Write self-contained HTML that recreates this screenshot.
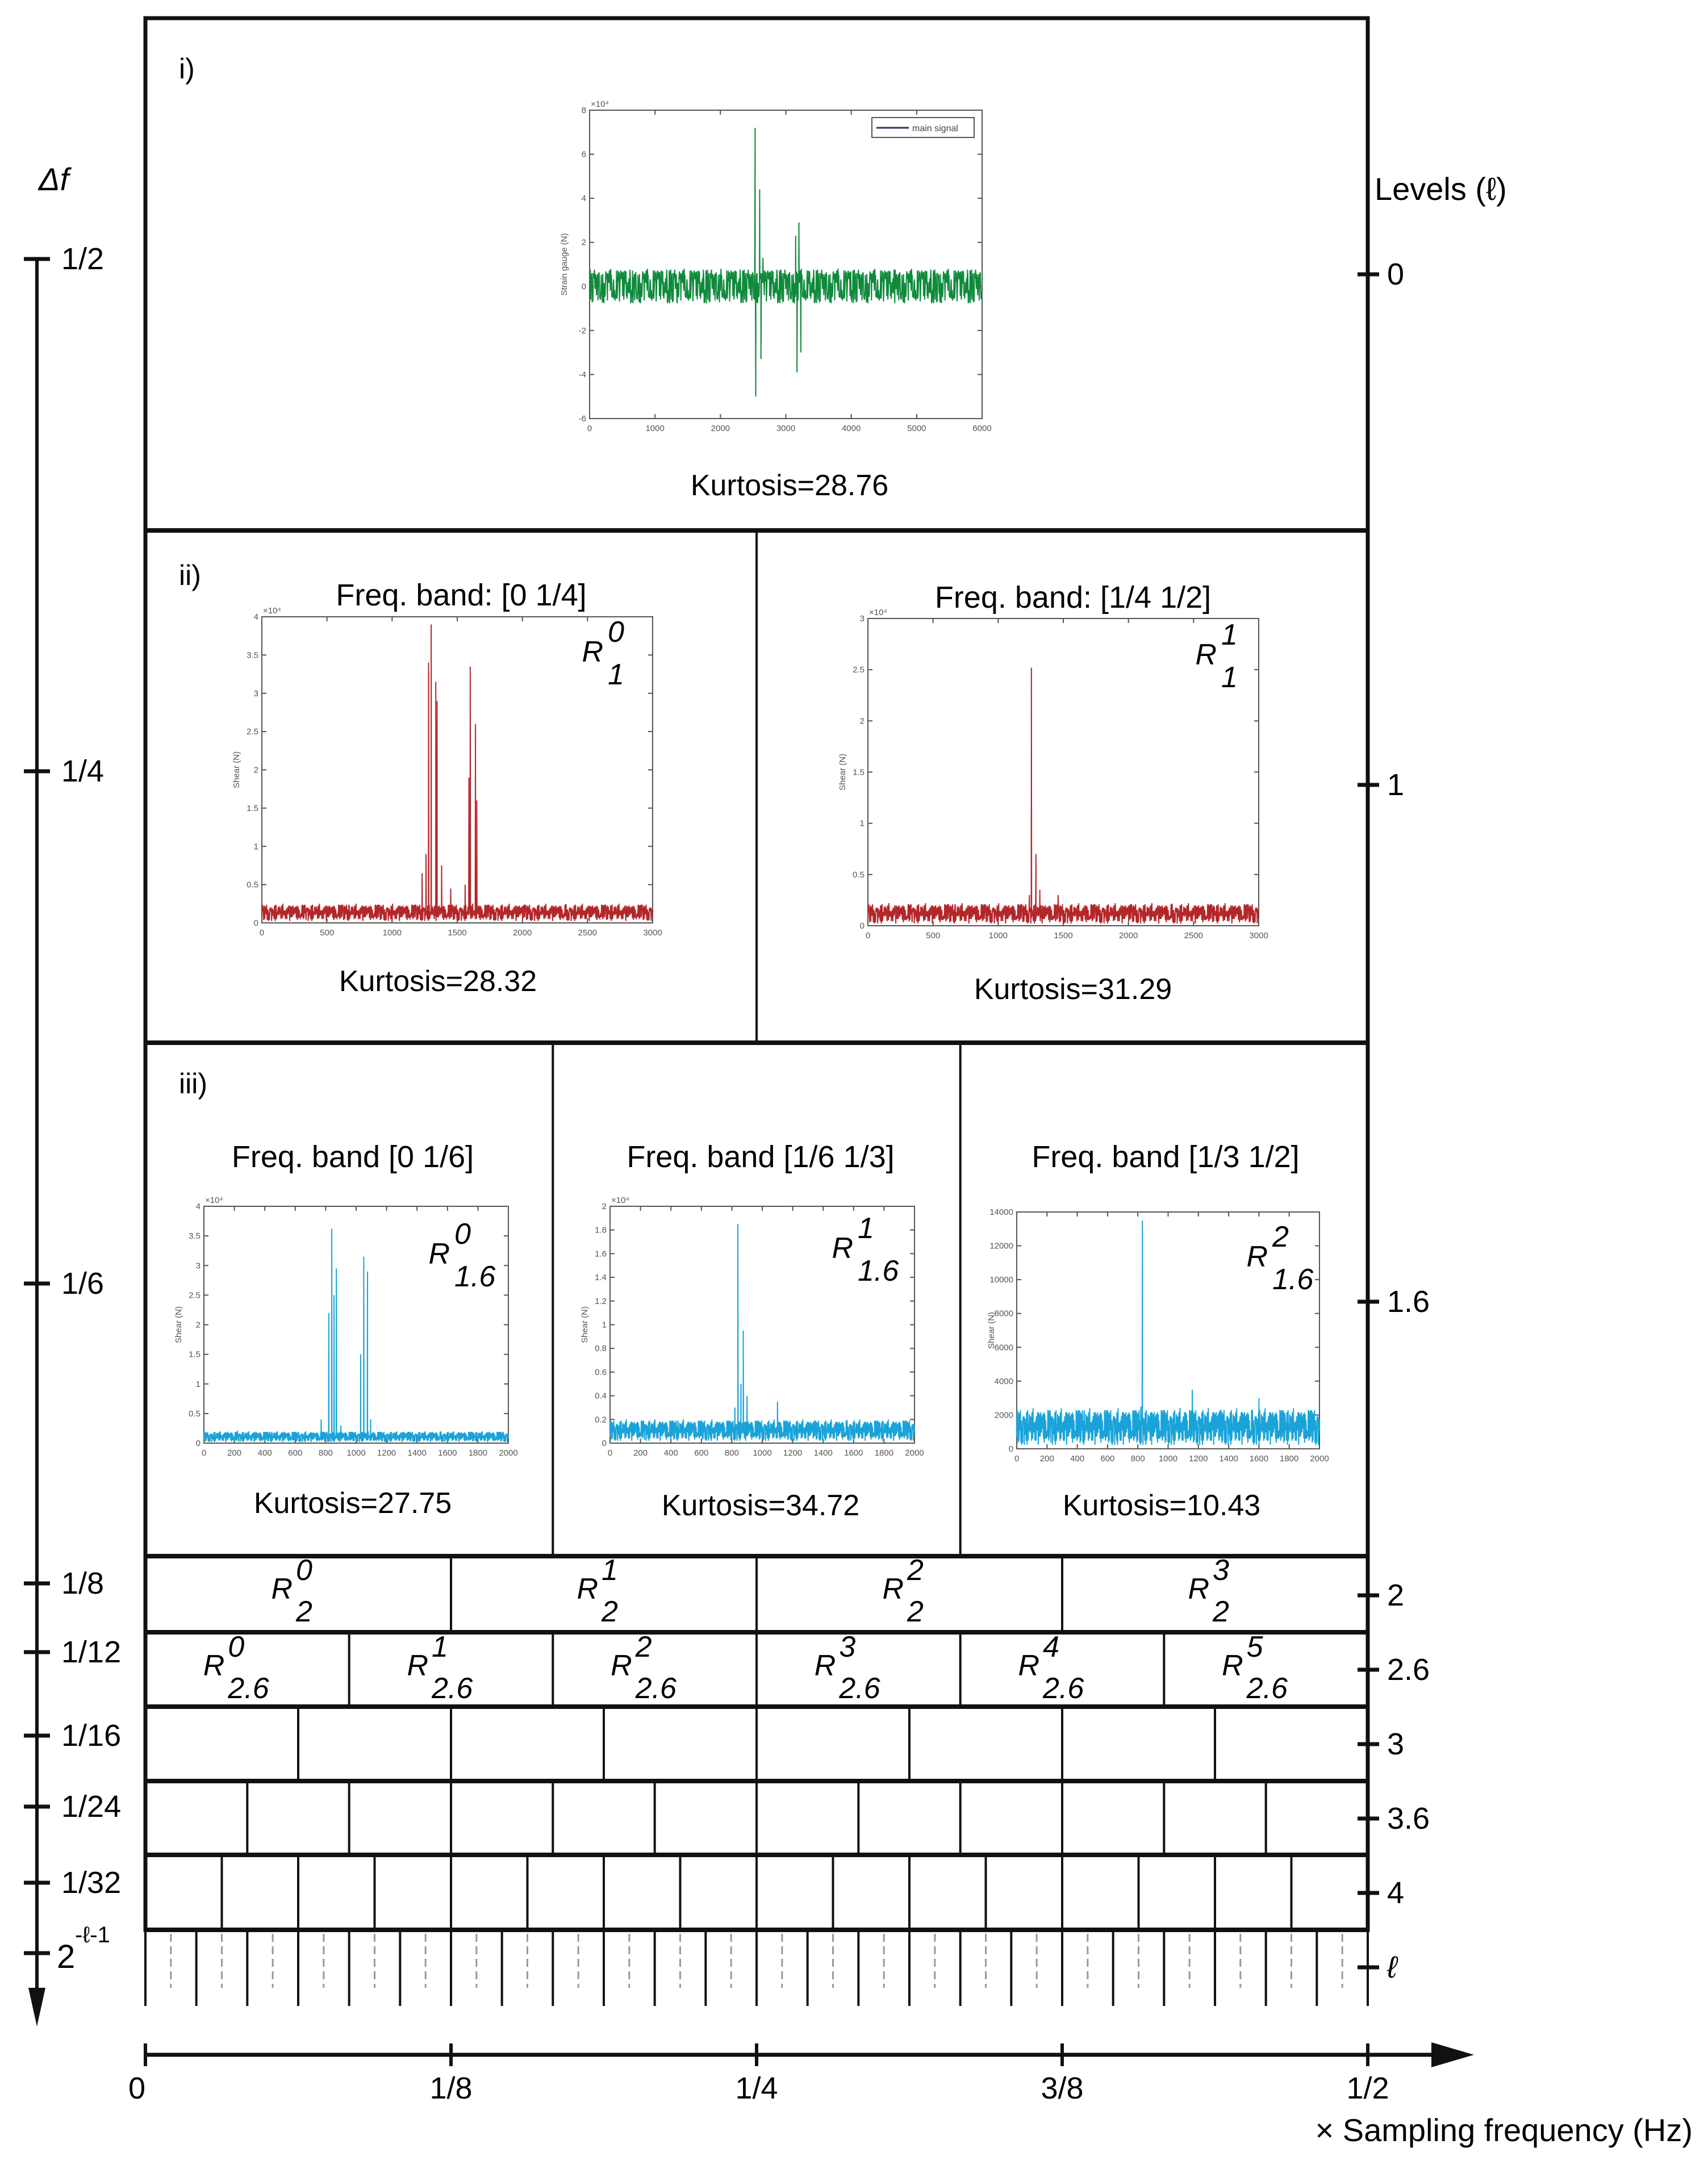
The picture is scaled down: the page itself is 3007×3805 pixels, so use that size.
<!DOCTYPE html>
<html><head><meta charset="utf-8">
<style>
html,body{margin:0;padding:0;background:#fff;}
svg{display:block;font-family:"Liberation Sans",sans-serif;}
</style></head>
<body>
<svg id="fig" width="3007" height="3805" viewBox="0 0 3007 3805" xmlns="http://www.w3.org/2000/svg">
<g id="frame"></g>
<g id="axes"></g>
<g id="plots"></g>
</svg>
<script>
// ---------- data ----------
const noise = [0.3,-0.7,0.9,-0.2,0.5,-0.9,0.1,0.8,-0.4,0.6,-0.8,0.2,0.7,-0.5,0.95,-0.3,0.4,-0.6,0.85,-0.1,
 0.55,-0.75,0.25,0.65,-0.45,0.9,-0.85,0.15,0.6,-0.35,0.8,-0.65,0.35,-0.95,0.7,-0.15,0.45,-0.55,0.9,-0.25,
 0.2,-0.8,0.75,-0.4,0.5,-0.7,1.0,-0.3,0.6,-0.9,0.3,0.85,-0.5,0.4,-0.6,0.7,-0.2,0.95,-0.75,0.1,
 0.65,-0.45,0.8,-0.85,0.35,-0.3,0.9,-0.6,0.5,-0.1,0.75,-0.95,0.25,0.6,-0.4,0.85,-0.7,0.45,-0.2,0.9,
 0.3,-0.65,0.7,-0.35,0.55,-0.9,0.15,0.8,-0.5,0.4,-0.75,0.95,-0.25,0.6,-0.85,0.2,0.7,-0.45,0.5,-0.6,
 0.85,-0.3,0.4,-0.8,0.65,-0.15,0.9,-0.55,0.35,-0.7,0.75,-0.4,0.5,-0.95,0.25,0.8,-0.6,0.45,-0.2,0.7];
const levelLabels = ["0","1","1.6","2","2.6","3","3.6","4","ℓ"];
const dfLabels = ["1/2","1/4","1/6","1/8","1/12","1/16","1/24","1/32"];
const freqLabels = ["0","1/8","1/4","3/8","1/2"];
const kurtosis = ["28.76","28.32","31.29","27.75","34.72","10.43"];
const spikesI = [[2520,0.5],[2530,7.2],[2540,-5.0],[2560,0.6],[2600,4.4],[2620,-3.3],[2650,1.3],[3150,2.3],[3170,-3.9],[3200,2.9],[3230,-3.0]];
const spikesIIa = [[1230,0.65],[1260,0.9],[1280,3.4],[1300,3.9],[1320,0.1],[1335,3.15],[1345,2.9],[1380,0.75],[1450,0.45],[1560,0.5],[1590,1.9],[1600,3.35],[1620,0.1],[1640,2.6],[1650,1.6]];
const spikesIIb = [[1240,0.3],[1255,2.52],[1290,0.7],[1320,0.35],[1460,0.3]];
const spikesIIIa = [[770,0.4],[820,2.2],[840,3.62],[855,2.5],[870,2.95],[900,0.3],[1030,1.5],[1050,3.15],[1075,2.9],[1095,0.4]];
const spikesIIIb = [[820,0.3],[840,1.85],[860,0.5],[875,0.95],[900,0.4],[1100,0.35]];
const spikesIIIc = [[820,2500],[830,13500],[850,2000],[1160,3500],[1600,3000]];

const NS="http://www.w3.org/2000/svg";
function mk(parent,tag,attrs,text){const e=document.createElementNS(NS,tag);for(const k in attrs)e.setAttribute(k,attrs[k]);if(text!==undefined)e.textContent=text;parent.appendChild(e);return e;}

const L=256,R=2408,W=R-L;
const frame=document.getElementById('frame');
const rowY=[32,934,1836,2740,2874,3005,3136,3266,3398];
let outer=mk(frame,'rect',{x:L,y:32,width:W,height:3398-32,fill:'none',stroke:'#111','stroke-width':7});


for(let i=1;i<rowY.length;i++){const l=mk(frame,'line',{x1:L,x2:R,y1:rowY[i],y2:rowY[i],stroke:'#111','stroke-width':8});

}
function vsplit(y1,y2,n){for(let k=1;k<n;k++){const x=L+W*k/n;const l=mk(frame,'line',{x1:x,x2:x,y1:y1,y2:y2,stroke:'#111','stroke-width':4});

}}
vsplit(934,1836,2);vsplit(1836,2740,3);
vsplit(2740,2874,4);vsplit(2874,3005,6);vsplit(3005,3136,8);vsplit(3136,3266,12);vsplit(3266,3398,16);
for(let k=0;k<=24;k++){const x=L+W*k/24;const l=mk(frame,'line',{x1:x,x2:x,y1:3398,y2:3532,stroke:'#111','stroke-width':4});

}
for(let k=0;k<24;k++){const x=L+W*(k+0.5)/24;const l=mk(frame,'line',{x1:x,x2:x,y1:3405,y2:3500,stroke:'#999','stroke-width':3,'stroke-dasharray':'14 8'});

}

function rlab(cx,cy,sup,sub,fs){const g=mk(frame,'g',{});


mk(g,'text',{x:cx-10,y:cy+15,'font-size':fs,'font-style':'italic','text-anchor':'end'},'R');
mk(g,'text',{x:cx-4,y:cy-18,'font-size':fs,'font-style':'italic'},sup);
mk(g,'text',{x:cx-4,y:cy+55,'font-size':fs,'font-style':'italic'},sub);}
for(let k=0;k<4;k++)rlab(L+W*(k+0.5)/4,2800,String(k),'2',52);
for(let k=0;k<6;k++)rlab(L+W*(k+0.5)/6-30,2935,String(k),'2.6',52);

// ---------- axes ----------
const ax=document.getElementById('axes');
const dfY=[456,1358,2260,2788,2909,3056,3181,3315];
mk(ax,'line',{x1:65,x2:65,y1:456,y2:3530,stroke:'#111','stroke-width':6});
mk(ax,'polygon',{points:'50,3500 80,3500 65,3568',fill:'#111'});
dfY.forEach((y,i)=>{mk(ax,'line',{x1:42,x2:88,y1:y,y2:y,stroke:'#111','stroke-width':7});
const t=mk(ax,'text',{x:108,y:y+18,'font-size':54},dfLabels[i]);

});
mk(ax,'line',{x1:42,x2:88,y1:3439,y2:3439,stroke:'#111','stroke-width':7});
mk(ax,'text',{x:100,y:3465,'font-size':58},'2');
mk(ax,'text',{x:132,y:3420,'font-size':40},'-ℓ-1');
let dft=mk(ax,'text',{x:68,y:335,'font-size':56,'font-style':'italic'},'Δf');


const lvY=[483,1382,2292,2809,2940,3071,3202,3333,3464];
lvY.forEach((y,i)=>{mk(ax,'line',{x1:2390,x2:2428,y1:y,y2:y,stroke:'#111','stroke-width':7});
const t=mk(ax,'text',{x:2442,y:y+18,'font-size':54,'font-style':i==8?'italic':'normal'},levelLabels[i]);

});
let lvt=mk(ax,'text',{x:2420,y:352,'font-size':56},'Levels (ℓ)');


mk(ax,'line',{x1:L,x2:2560,y1:3618,y2:3618,stroke:'#111','stroke-width':7});
mk(ax,'polygon',{points:'2520,3596 2520,3640 2595,3618',fill:'#111'});
freqLabels.forEach((s,i)=>{const x=L+W*i/4;mk(ax,'line',{x1:x,x2:x,y1:3598,y2:3638,stroke:'#111','stroke-width':6});
const t=mk(ax,'text',{x:x+(i==0?-15:0),y:3695,'font-size':54,'text-anchor':'middle'},s);

});
let xt=mk(ax,'text',{x:2980,y:3770,'font-size':56,'text-anchor':'end'},'× Sampling frequency (Hz)');



// ---------- plots ----------
const P=document.getElementById('plots');
function plot(c){
 const g=mk(P,'g',{});
 
 
 const sx=v=>c.x+(v-c.xmin)/(c.xmax-c.xmin)*c.w;
 const sy=v=>c.y+c.h-(v-c.ymin)/(c.ymax-c.ymin)*c.h;
 mk(g,'rect',{x:c.x,y:c.y,width:c.w,height:c.h,fill:'#fff',stroke:'#555','stroke-width':2});
 c.yticks.forEach(v=>{const y=sy(v);mk(g,'line',{x1:c.x,x2:c.x+8,y1:y,y2:y,stroke:'#555','stroke-width':2});mk(g,'line',{x1:c.x+c.w-8,x2:c.x+c.w,y1:y,y2:y,stroke:'#555','stroke-width':2});
  mk(g,'text',{x:c.x-6,y:y+5,'font-size':15,'text-anchor':'end',fill:'#555'},String(v));});
 c.xticks.forEach(v=>{const x=sx(v);mk(g,'line',{x1:x,x2:x,y1:c.y+c.h-8,y2:c.y+c.h,stroke:'#555','stroke-width':2});mk(g,'line',{x1:x,x2:x,y1:c.y,y2:c.y+8,stroke:'#555','stroke-width':2});
  mk(g,'text',{x:x,y:c.y+c.h+22,'font-size':15,'text-anchor':'middle',fill:'#555'},String(v));});
 if(c.exp)mk(g,'text',{x:c.x+2,y:c.y-6,'font-size':15,fill:'#555'},'×10⁴');
 mk(g,'text',{x:c.x-40,y:c.y+c.h/2,'font-size':15,fill:'#555','text-anchor':'middle',transform:`rotate(-90 ${c.x-40} ${c.y+c.h/2})`},c.ylabel);
 const pts=[];const n=noise.length;
 const reps=9;
 for(let r=0;r<reps;r++)for(let i=0;i<n;i++){const t=(r*n+i)/(reps*n-1);const xv=c.xmin+t*(c.xmax-c.xmin);
   const nv=noise[(i*7+r*13)%n];
   let v=c.abs?Math.abs(nv)*c.amp:nv*c.amp;pts.push([xv,v]);}
 c.spikes.forEach(s=>pts.push([s[0],s[1]]));
 pts.sort((a,b)=>a[0]-b[0]);
 const line=mk(g,'polyline',{points:pts.map(p=>sx(p[0]).toFixed(1)+','+sy(p[1]).toFixed(1)).join(' '),fill:'none',stroke:c.color,'stroke-width':2});
 
 
 return g;
}
const red='#b3262a',cyan='#1aa3d9',green='#0f8a3c';
plot({name:'main-signal-plot',x:1038,y:194,w:691,h:543,xmin:0,xmax:6000,ymin:-6,ymax:8,xticks:[0,1000,2000,3000,4000,5000,6000],yticks:[-6,-4,-2,0,2,4,6,8],color:green,amp:0.8,abs:false,spikes:spikesI,exp:true,ylabel:'Strain gauge (N)'});
const lg=mk(P,'g',{});


mk(lg,'rect',{x:1535,y:207,width:180,height:35,fill:'#fff',stroke:'#555','stroke-width':2});
mk(lg,'line',{x1:1543,x2:1600,y1:225,y2:225,stroke:'#335','stroke-width':3});
mk(lg,'text',{x:1606,y:231,'font-size':16,fill:'#444'},'main signal');
plot({name:'band-0-quarter-plot',x:461,y:1086,w:688,h:539,xmin:0,xmax:3000,ymin:0,ymax:4,xticks:[0,500,1000,1500,2000,2500,3000],yticks:[0,0.5,1,1.5,2,2.5,3,3.5,4],color:red,amp:0.25,abs:true,spikes:spikesIIa,exp:true,ylabel:'Shear (N)'});
plot({name:'band-quarter-half-plot',x:1528,y:1089,w:688,h:541,xmin:0,xmax:3000,ymin:0,ymax:3,xticks:[0,500,1000,1500,2000,2500,3000],yticks:[0,0.5,1,1.5,2,2.5,3],color:red,amp:0.22,abs:true,spikes:spikesIIb,exp:true,ylabel:'Shear (N)'});
plot({name:'band-0-sixth-plot',x:359,y:2124,w:536,h:417,xmin:0,xmax:2000,ymin:0,ymax:4,xticks:[0,200,400,600,800,1000,1200,1400,1600,1800,2000],yticks:[0,0.5,1,1.5,2,2.5,3,3.5,4],color:cyan,amp:0.2,abs:true,spikes:spikesIIIa,exp:true,ylabel:'Shear (N)'});
plot({name:'band-sixth-third-plot',x:1074,y:2124,w:536,h:417,xmin:0,xmax:2000,ymin:0,ymax:2,xticks:[0,200,400,600,800,1000,1200,1400,1600,1800,2000],yticks:[0,0.2,0.4,0.6,0.8,1,1.2,1.4,1.6,1.8,2],color:cyan,amp:0.2,abs:true,spikes:spikesIIIb,exp:true,ylabel:'Shear (N)'});
plot({name:'band-third-half-plot',x:1790,y:2134,w:533,h:417,xmin:0,xmax:2000,ymin:0,ymax:14000,xticks:[0,200,400,600,800,1000,1200,1400,1600,1800,2000],yticks:[0,2000,4000,6000,8000,10000,12000,14000],color:cyan,amp:2400,abs:true,spikes:spikesIIIc,exp:false,ylabel:'Shear (N)'});

function txt(x,y,s,fs,anchor,name,italic){const t=mk(P,'text',{x:x,y:y,'font-size':fs,'text-anchor':anchor||'middle','font-style':italic?'italic':'normal'},s);

}
txt(315,138,'i)',50,'start','panel-i-label');
txt(315,1030,'ii)',50,'start','panel-ii-label');
txt(315,1925,'iii)',50,'start','panel-iii-label');
txt(1390,872,'Kurtosis='+kurtosis[0],52,'middle','kurtosis-i');
txt(812,1066,'Freq. band: [0 1/4]',54,'middle','band-title');
txt(1889,1070,'Freq. band: [1/4 1/2]',54,'middle','band-title');
txt(771,1745,'Kurtosis='+kurtosis[1],52,'middle','kurtosis-ii-a');
txt(1889,1759,'Kurtosis='+kurtosis[2],52,'middle','kurtosis-ii-b');
txt(621,2055,'Freq. band [0  1/6]',54,'middle','band-title');
txt(1339,2055,'Freq. band [1/6 1/3]',54,'middle','band-title');
txt(2052,2055,'Freq. band [1/3 1/2]',54,'middle','band-title');
txt(621,2664,'Kurtosis='+kurtosis[3],52,'middle','kurtosis-iii-a');
txt(1339,2668,'Kurtosis='+kurtosis[4],52,'middle','kurtosis-iii-b');
txt(2045,2668,'Kurtosis='+kurtosis[5],52,'middle','kurtosis-iii-c');
function prl(cx,cy,sup,sub){const g=mk(P,'g',{});


mk(g,'text',{x:cx-8,y:cy+15,'font-size':52,'font-style':'italic','text-anchor':'end'},'R');
mk(g,'text',{x:cx,y:cy-20,'font-size':52,'font-style':'italic'},sup);
mk(g,'text',{x:cx,y:cy+55,'font-size':52,'font-style':'italic'},sub);}
prl(1070,1150,'0','1');prl(2150,1155,'1','1');
prl(800,2210,'0','1.6');prl(1510,2200,'1','1.6');prl(2240,2215,'2','1.6');
</script>
</body></html>
